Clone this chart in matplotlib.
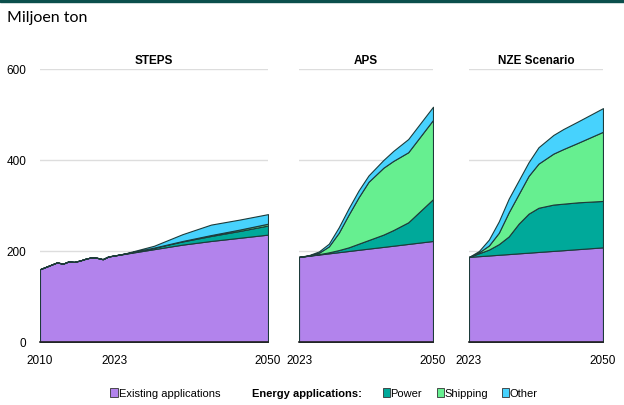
import matplotlib
matplotlib.use("Agg")
import matplotlib.pyplot as plt
from matplotlib.patches import Rectangle
import numpy as np

plt.rcParams["font.family"] = ["Liberation Sans", "DejaVu Sans"]

# historic + STEPS
hist_years = [2010, 2011, 2012, 2013, 2014, 2015, 2016, 2017, 2018, 2019, 2020, 2021, 2022]
hist_existing = [160, 165, 170, 175, 172, 177, 176, 179, 183, 186, 185, 182, 188]

steps_years = [2023, 2025, 2030, 2035, 2040, 2045, 2050]
steps_existing = [190, 194, 204, 214, 222, 229, 236]
steps_power = [0, 0.5, 3, 7, 11, 15, 20]
steps_shipping = [0, 0, 0.5, 1, 2, 3, 4]
steps_other = [0, 0.5, 4, 15, 23, 22, 21]

proj_years = [2023, 2025, 2027, 2029, 2031, 2033, 2035, 2037, 2040, 2042, 2045, 2050]

# cumulative tops
aps_existing = [187, 189.6, 192.2, 194.8, 197.4, 200, 202.6, 205.2, 209, 211.6, 215.5, 222]
aps_power_top = [187, 190, 193, 197, 202, 208, 216, 224, 236, 246, 263, 314]
aps_ship_top = [187, 190, 196, 210, 240, 280, 318, 352, 383, 398, 417, 488]
aps_other_top = [187, 191, 199, 216, 252, 294, 333, 366, 400, 420, 446, 517]

nze_existing = [187, 188.6, 190.1, 191.7, 193.2, 194.8, 196.3, 197.9, 200.2, 201.7, 204.1, 208]
nze_power_top = [187, 195, 203, 215, 232, 260, 282, 295, 302, 304, 307, 310]
nze_ship_top = [187, 197, 212, 240, 285, 325, 365, 392, 414, 424, 438, 462]
nze_other_top = [187, 200, 225, 265, 315, 355, 395, 428, 455, 468, 485, 514]

titles = ["STEPS", "APS", "NZE Scenario"]
labels = ["Existing applications", "Power", "Shipping", "Other"]
colors = ["#b283ec", "#00a99a", "#66ef90", "#47d2fd"]
edge = "#1d3b3a"


def layers(existing, power_top, ship_top, other_top):
    e = np.array(existing)
    p = np.array(power_top) - e
    s = np.array(ship_top) - np.array(power_top)
    o = np.array(other_top) - np.array(ship_top)
    return [e, p, s, o]


fig = plt.figure(figsize=(6.24, 4.06), dpi=100)
fig.add_artist(Rectangle((0, 0.992), 1, 0.008, transform=fig.transFigure, color="#0b4f4c"))
fig.text(0.012, 0.956, "Miljoen ton", fontsize=11.5, family=["Lato", "DejaVu Sans"], va="center")

bottom = 0.1552
height = 0.6724
ax1 = fig.add_axes([0.0641, bottom, 0.3654, height])
ax2 = fig.add_axes([0.4792, bottom, 0.2147, height])
ax3 = fig.add_axes([0.7516, bottom, 0.2147, height])

# STEPS: history + projection
x1 = hist_years + steps_years
y1 = [np.array(hist_existing + steps_existing),
      np.array([0] * len(hist_years) + steps_power),
      np.array([0] * len(hist_years) + steps_shipping),
      np.array([0] * len(hist_years) + steps_other)]
ax1.stackplot(x1, y1, colors=colors, edgecolor=edge, linewidth=0.8)
ax2.stackplot(proj_years, layers(aps_existing, aps_power_top, aps_ship_top, aps_other_top),
              colors=colors, edgecolor=edge, linewidth=0.8)
ax3.stackplot(proj_years, layers(nze_existing, nze_power_top, nze_ship_top, nze_other_top),
              colors=colors, edgecolor=edge, linewidth=0.8)

for ax, title in zip([ax1, ax2, ax3], titles):
    ax.set_ylim(0, 600)
    ax.set_yticks([0, 200, 400, 600])
    ax.grid(axis="y", color="#dddddd", linewidth=1)
    ax.set_axisbelow(True)
    for sp in ["top", "right", "left"]:
        ax.spines[sp].set_visible(False)
    ax.spines["bottom"].set_color("#222222")
    ax.spines["bottom"].set_linewidth(1.2)
    ax.tick_params(length=0, labelsize=8.5, pad=9)
    ax.set_title(title, fontsize=8.5, fontweight="bold", pad=4)
    ax.margins(x=0)

ax1.set_xlim(2010, 2050)
ax1.set_xticks([2010, 2023, 2050])
ax1.tick_params(axis="y", pad=10)
for ax in [ax2, ax3]:
    ax.set_xlim(2023, 2050)
    ax.set_xticks([2023, 2050])
    ax.tick_params(axis="y", labelleft=False)

# legend
ly = 0.03
fs = 8


def box(x, c):
    fig.add_artist(Rectangle((x, ly - 0.01), 0.0115, 0.021, transform=fig.transFigure,
                             facecolor=c, edgecolor="#333333", linewidth=0.6))


box(0.177, colors[0])
fig.text(0.191, ly, labels[0], fontsize=fs, va="center")
fig.text(0.404, ly, "Energy applications:", fontsize=fs, fontweight="bold", va="center")
box(0.613, colors[1])
fig.text(0.625, ly, labels[1], fontsize=fs, va="center")
box(0.700, colors[2])
fig.text(0.712, ly, labels[2], fontsize=fs, va="center")
box(0.804, colors[3])
fig.text(0.816, ly, labels[3], fontsize=fs, va="center")

fig.savefig("out.png", dpi=100)
